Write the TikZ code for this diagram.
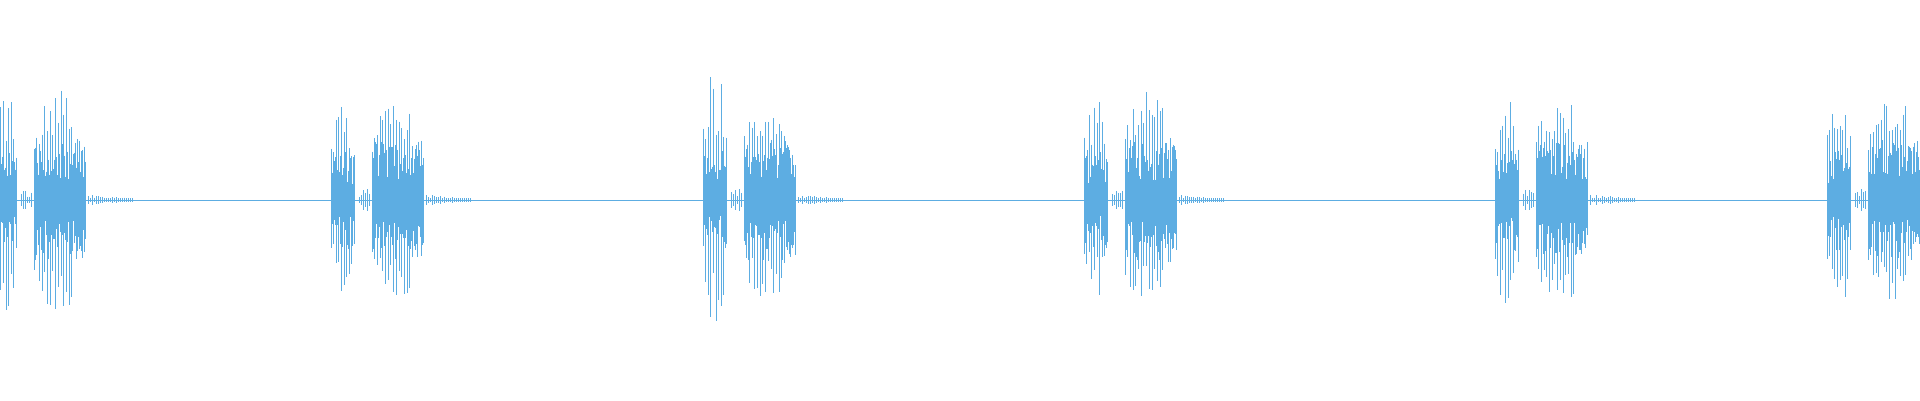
\documentclass[tikz,border=0pt]{standalone}
\definecolor{wave}{HTML}{5DADE2}
\begin{document}
\begin{tikzpicture}[x=1pt,y=1pt,wv/.style={wave,line width=0.9pt}]
\useasboundingbox (0,0) rectangle (1920,400);
\pgfmathsetseed{7}
\draw[wave,line width=1pt] (0,200) -- (1920,200);
\begin{scope}
\clip (0,0) rectangle (1920,400);
\foreach \xo/\A/\B in {-8/115/110, 330/95/100, 702/130/100, 1083/105/110, 1494/110/100, 1826/110/100} {
  % first sub-burst: dense core
  \foreach \i in {0,...,26} {
    \pgfmathsetmacro\u{15+35*rnd}
    \pgfmathsetmacro\d{15+35*rnd}
    \draw[wv] (\xo+1+\i*0.9,200+\u) -- (\xo+1+\i*0.9,200-\d);
  }
  % tall lines
  \foreach \i in {0,...,9} {
    \pgfmathsetmacro\e{sin(180*(\i+1)/11)^0.4}
    \pgfmathsetmacro\u{\A*\e*(0.5+0.5*rnd)}
    \pgfmathsetmacro\d{\A*\e*(0.5+0.5*rnd)}
    \draw[wv] (\xo+1+\i*2.6,200+\u) -- (\xo+1+\i*2.6,200-\d);
  }
  \foreach \i in {0,...,5} {
    \pgfmathsetmacro\s{3+8*rnd}
    \draw[wv] (\xo+29+\i*2,200+\s) -- (\xo+29+\i*2,200-\s);
  }
  % second sub-burst: dense core
  \foreach \i in {0,...,57} {
    \pgfmathsetmacro\u{20+40*rnd}
    \pgfmathsetmacro\d{20+40*rnd}
    \draw[wv] (\xo+42+\i*0.9,200+\u) -- (\xo+42+\i*0.9,200-\d);
  }
  \foreach \i in {0,...,19} {
    \pgfmathsetmacro\e{ifthenelse(\i<15,1,0.7)*sin(180*(\i+1.5)/22)^0.25}
    \pgfmathsetmacro\u{\B*\e*(0.6+0.4*rnd)}
    \pgfmathsetmacro\d{\B*\e*(0.6+0.4*rnd)}
    \draw[wv] (\xo+42+\i*2.7,200+\u) -- (\xo+42+\i*2.7,200-\d);
  }
  % tail
  \foreach \i in {0,...,22} {
    \pgfmathsetmacro\s{1.5+4*rnd*(1-\i/23)}
    \draw[wv] (\xo+96+\i*2,200+\s) -- (\xo+96+\i*2,200-\s);
  }
}
\end{scope}
\end{tikzpicture}
\end{document}
